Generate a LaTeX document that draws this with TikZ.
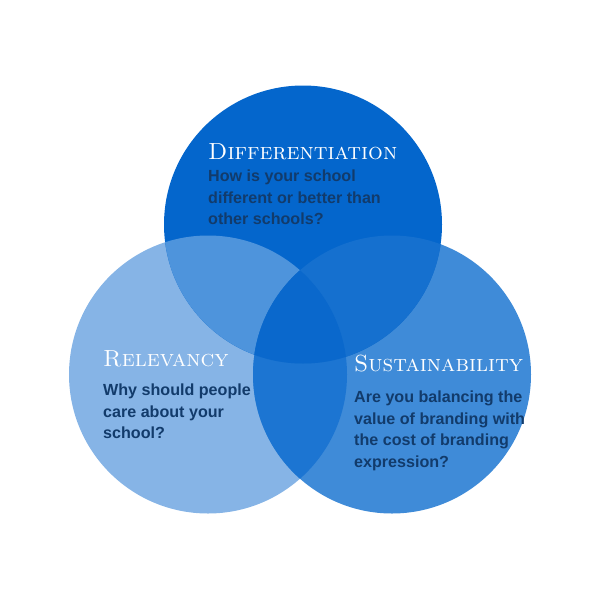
\documentclass[tikz,border=0pt]{standalone}
\usepackage{fontspec}
\newfontfamily\bodyf{Liberation Sans}
\definecolor{cT}{HTML}{0466CC}
\definecolor{cL}{HTML}{86B4E6}
\definecolor{cR}{HTML}{3F8BD8}
\definecolor{cTL}{HTML}{4E94DC}
\definecolor{cTR}{HTML}{1570CF}
\definecolor{cLR}{HTML}{1C75D2}
\definecolor{cAll}{HTML}{0A68CC}
\definecolor{txt}{HTML}{123B6B}
\tikzset{
  ttl/.style={anchor=base west, inner sep=0pt, text=white, font=\fontsize{23.3}{23.3}\selectfont\scshape},
  bdy/.style={anchor=north west, inner sep=0pt, text=txt, align=left, font=\bodyf\bfseries\fontsize{16.1}{21.8}\selectfont},
}
\begin{document}
\begin{tikzpicture}[x=1pt,y=-1pt]
\useasboundingbox (0,0) rectangle (600,600);
\def\rr{139}
\coordinate (T) at (303,224.5);
\coordinate (L) at (208,374.5);
\coordinate (R) at (392,374.5);
\fill[cL] (L) circle (\rr);
\fill[cR] (R) circle (\rr);
\fill[cT] (T) circle (\rr);
\begin{scope}
  \clip (L) circle (\rr);
  \fill[cTL] (T) circle (\rr);
  \fill[cLR] (R) circle (\rr);
\end{scope}
\begin{scope}
  \clip (R) circle (\rr);
  \fill[cTR] (T) circle (\rr);
\end{scope}
\begin{scope}
  \clip (L) circle (\rr);
  \clip (R) circle (\rr);
  \fill[cAll] (T) circle (\rr);
\end{scope}
\node[ttl] (t1) at (208,159) {Differentiation};
\node[bdy] (b1) at (208,169.5) {How is your school\\different or better than\\other schools?};
\node[ttl] (t2) at (103,366.7) {Relevancy};
\node[bdy] (b2) at (103,383.5) {Why should people\\care about your\\school?};
\node[ttl] (t3) at (354,371.7) {Sustainability};
\node[bdy] (b3) at (354,390.5) {Are you balancing the\\value of branding with\\the cost of branding\\expression?};
\end{tikzpicture}
\end{document}
